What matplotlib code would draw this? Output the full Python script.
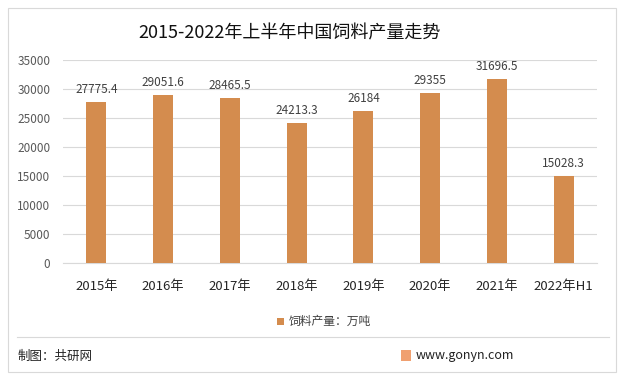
import matplotlib
matplotlib.use("Agg")
import matplotlib.pyplot as plt
from matplotlib.patches import Rectangle
from matplotlib.lines import Line2D

plt.rcParams['font.family'] = ['Noto Sans CJK SC', 'DejaVu Sans']

years  = ["2015年", "2016年", "2017年", "2018年", "2019年", "2020年", "2021年", "2022年H1"]
output = [27775.4, 29051.6, 28465.5, 24213.3, 26184, 29355, 31696.5, 15028.3]
labels = ["27775.4", "29051.6", "28465.5", "24213.3", "26184", "29355", "31696.5", "15028.3"]

BAR_COLOR  = "#D48C4E"
GRID_COLOR = "#D9D9D9"
TEXT_COLOR = "#404040"

W, H = 624, 381
fig = plt.figure(figsize=(W / 100, H / 100), dpi=100, facecolor="white")

# outer frame and footer separator
fig.add_artist(Rectangle((8 / W, 1 - 372 / H), 608 / W, 364 / H, transform=fig.transFigure,
                         fill=False, edgecolor="#D9D9D9", lw=0.8))
fig.add_artist(Line2D([17 / W, 609 / W], [1 - 337 / H, 1 - 337 / H], transform=fig.transFigure,
                      color="#D9D9D9", lw=0.8))

ax = fig.add_axes([63 / W, 1 - 263 / H, 534 / W, 203 / H])
x = range(len(years))
ax.bar(x, output, width=0.3, color=BAR_COLOR, zorder=3)
for xi, v, s in zip(x, output, labels):
    ax.text(xi, v + 1000, s, ha="center", va="bottom", fontsize=8.5, color=TEXT_COLOR)

ax.set_xlim(-0.5, len(years) - 0.5)
ax.set_ylim(0, 35000)
ax.set_yticks(range(0, 35001, 5000))
ax.grid(axis="y", color=GRID_COLOR, lw=0.8, zorder=0)
ax.set_xticks(list(x))
ax.set_xticklabels(years, fontsize=9.5, color="#262626")
ax.tick_params(axis="y", labelsize=8.5, colors="#595959", length=0, pad=9)
ax.tick_params(axis="x", length=0, pad=12)
for sp in ["top", "right", "left"]:
    ax.spines[sp].set_visible(False)
ax.spines["bottom"].set_color(GRID_COLOR)

fig.text(290 / W, 1 - 33 / H, "2015-2022年上半年中国饲料产量走势", ha="center", va="center",
         fontsize=13, color="#111111")

# legend
fig.add_artist(Rectangle((277 / W, 1 - 325 / H), 7 / W, 7 / H, transform=fig.transFigure,
                         facecolor=BAR_COLOR, edgecolor="none"))
fig.text(289 / W, 1 - 321 / H, "饲料产量：万吨", ha="left", va="center", fontsize=8.5, color="#404040")

# footer
fig.text(18 / W, 1 - 356 / H, "制图：共研网", ha="left", va="center", fontsize=9, color="#222222")
fig.add_artist(Rectangle((401 / W, 1 - 361 / H), 10 / W, 11 / H, transform=fig.transFigure,
                         facecolor="#F0A070", edgecolor="none"))
fig.text(416 / W, 1 - 355 / H, "www.gonyn.com", ha="left", va="center", fontsize=9, color="#222222")

fig.savefig("out.png", dpi=100, facecolor="white")
